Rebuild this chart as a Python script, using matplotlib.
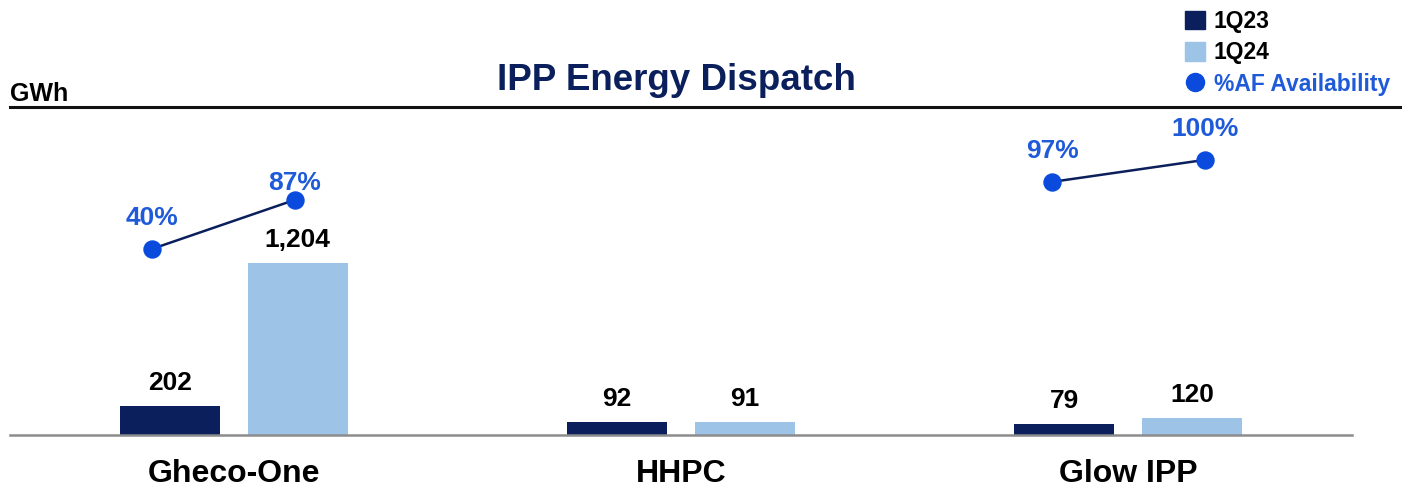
import matplotlib.pyplot as plt
import numpy as np
from matplotlib.patches import Patch
from matplotlib.lines import Line2D

plt.rcParams['font.family'] = ['Liberation Sans', 'DejaVu Sans']
plt.rcParams['font.weight'] = 'bold'

# data
plants = ['Gheco-One', 'HHPC', 'Glow IPP']
gwh_1q23 = [202, 92, 79]
gwh_1q24 = [1204, 91, 120]
# availability only shown for Gheco-One and Glow IPP
avail_plants = [0, 2]
avail_1q23 = [40, 97]
avail_1q24 = [87, 100]

navy = '#0A1F5C'
light = '#9DC3E6'
blue = '#0A4BDD'
lblue = '#1F5AD8'

W, H = 1402, 486
fig = plt.figure(figsize=(W / 100, H / 100), dpi=100)
ax = fig.add_axes([10 / W, 51 / H, 1342 / W, 328 / H])

x = np.arange(len(plants))
bw = 0.224
off = 0.143
b1 = ax.bar(x - off, gwh_1q23, bw, color=navy)
b2 = ax.bar(x + off, gwh_1q24, bw, color=light)
for bars in (b1, b2):
    for r in bars:
        ax.annotate(f'{r.get_height():,.0f}', (r.get_x() + r.get_width() / 2, r.get_height()),
                    xytext=(0, 8), textcoords='offset points', ha='center', va='bottom',
                    fontsize=19, fontweight='bold', color='black')

ax.set_xlim(-0.5, 2.5)
ax.set_ylim(0, 2296)
ax.set_yticks([])
ax.set_xticks(x)
ax.set_xticklabels(plants, fontsize=23, fontweight='bold')
ax.tick_params(axis='x', length=0, pad=17)
for s in ['top', 'left', 'right']:
    ax.spines[s].set_visible(False)
ax.spines['bottom'].set_color('#8C8C8C')
ax.spines['bottom'].set_linewidth(1.8)

# availability lines, each on its own scale
line_ylims = [(-138.4, 176.2), (62.5, 107.2)]
pt_off = [(-0.183, 0.136), (-0.17, 0.172)]
lab_off = [(22, 12), (22, 22)]
for i, p in enumerate(avail_plants):
    a2 = ax.twinx()
    a2.set_ylim(*line_ylims[i])
    a2.set_yticks([])
    for s in a2.spines.values():
        s.set_visible(False)
    xs = [p + pt_off[i][0], p + pt_off[i][1]]
    ys = [avail_1q23[i], avail_1q24[i]]
    a2.plot(xs, ys, color=navy, lw=1.8, zorder=2)
    a2.scatter(xs, ys, s=150, color=blue, zorder=3)
    for j in range(2):
        a2.annotate(f'{ys[j]}%', (xs[j], ys[j]), xytext=(0, lab_off[i][j]),
                    textcoords='offset points', ha='center', va='center',
                    fontsize=19, fontweight='bold', color=lblue)

# header
fig.text(676 / W, 1 - 81 / H, 'IPP Energy Dispatch', ha='center', va='center',
         fontsize=26.5, fontweight='bold', color=navy)
fig.text(10 / W, 1 - 94 / H, 'GWh', ha='left', va='center', fontsize=18,
         fontweight='bold', color='black')
fig.add_artist(Line2D([10 / W, 1], [1 - 107 / H, 1 - 107 / H], color='#111111', lw=2.2))

handles = [Patch(color=navy), Patch(color=light),
           Line2D([], [], marker='o', ls='', color=blue, markersize=13)]
leg = fig.legend(handles, ['1Q23', '1Q24', '%AF Availability'], loc='upper left',
                 bbox_to_anchor=(1176 / W, 1 - 1 / H), frameon=False, fontsize=16.5,
                 handlelength=0.85, handleheight=0.85, handletextpad=0.4, labelspacing=0.36,
                 borderaxespad=0)
for t, c in zip(leg.get_texts(), ['black', 'black', lblue]):
    t.set_color(c)
    t.set_fontweight('bold')

fig.savefig('out.png', dpi=100)
